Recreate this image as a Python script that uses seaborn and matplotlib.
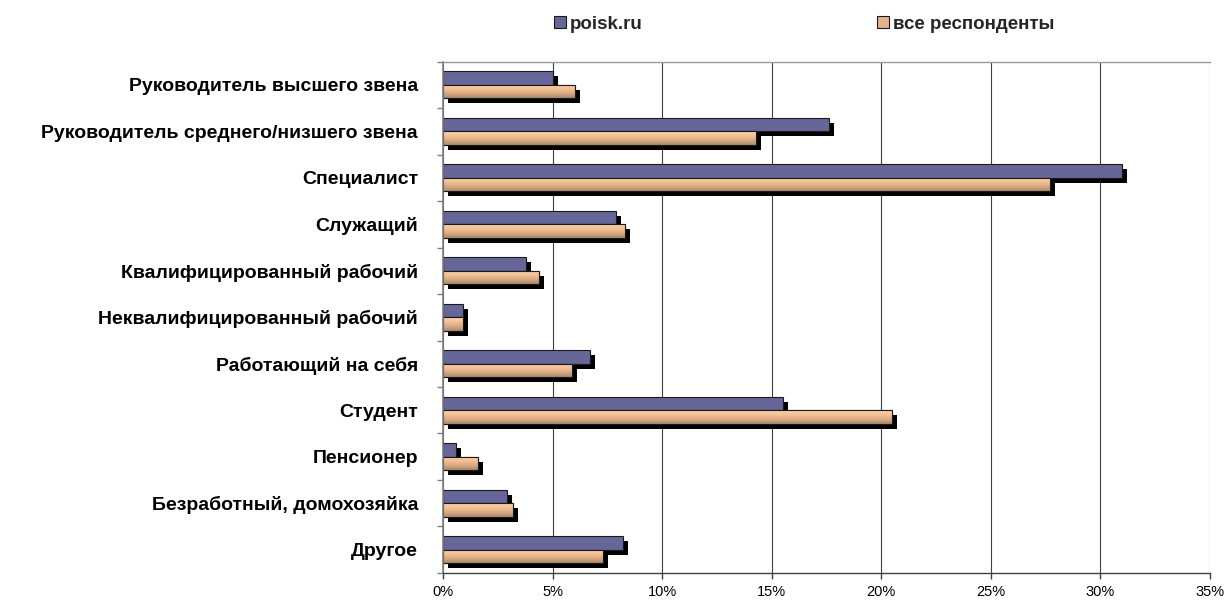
import numpy as np
import pandas as pd
import matplotlib
matplotlib.use("Agg")
import matplotlib.pyplot as plt
import matplotlib.patheffects as pe
from matplotlib.patches import Rectangle, Patch
from matplotlib.colors import LinearSegmentedColormap
from matplotlib.ticker import PercentFormatter, FixedLocator
import seaborn as sns

# --- data ---------------------------------------------------------------
categories = [
    "Руководитель высшего звена",
    "Руководитель среднего/низшего звена",
    "Специалист",
    "Служащий",
    "Квалифицированный рабочий",
    "Неквалифицированный рабочий",
    "Работающий на себя",
    "Студент",
    "Пенсионер",
    "Безработный, домохозяйка",
    "Другое",
]
poisk_values = [5.0, 17.6, 31.0, 7.9, 3.8, 0.9, 6.7, 15.5, 0.6, 2.9, 8.2]
all_values = [6.0, 14.3, 27.7, 8.3, 4.4, 0.9, 5.9, 20.5, 1.6, 3.2, 7.3]
series_names = ["poisk.ru", "все респонденты"]
x_ticks = [0, 5, 10, 15, 20, 25, 30, 35]

df = pd.DataFrame({
    "category": categories * 2,
    "value": poisk_values + all_values,
    "series": [series_names[0]] * len(categories) + [series_names[1]] * len(categories),
})

# --- style --------------------------------------------------------------
sns.set_theme(style="white")
plt.rcParams["font.family"] = ["Liberation Sans", "DejaVu Sans"]

BLUE = "#666699"
PEACH = "#E3B48C"
peach_grad = LinearSegmentedColormap.from_list(
    "peach", ["#FAD3AA", "#F2C195", "#D9A981", "#A88A70"])

fig = plt.figure(figsize=(12.3, 6.02), dpi=100)
ax = fig.add_axes([0.3602, 0.0482, 0.6235, 0.8496])

sns.barplot(data=df, y="category", x="value", hue="series", orient="h",
            palette=[BLUE, PEACH], saturation=1, width=0.58, errorbar=None,
            edgecolor="#1a1a1a", linewidth=0.8, legend=False, ax=ax)

# drop shadow under every bar
shadow = [pe.SimplePatchShadow(offset=(3.6, -3.6), shadow_rgbFace="black", alpha=1.0),
          pe.Normal()]
bars = [p for p in ax.patches if isinstance(p, Rectangle)]
n = len(categories)
for bar in bars:
    bar.set_path_effects(shadow)
    bar.set_zorder(2)

# vertical gradient fill on the second series
grad = np.linspace(0, 1, 64).reshape(-1, 1)
for bar in bars[n:]:
    x0, y0 = bar.get_x(), bar.get_y()
    w, h = bar.get_width(), bar.get_height()
    im = ax.imshow(grad, cmap=peach_grad, aspect="auto", origin="upper",
                   extent=(x0, x0 + w, y0 + h, y0), zorder=2.05,
                   interpolation="bilinear")
    im.set_clip_path(bar)
    ax.add_patch(Rectangle((x0, y0), w, h, fill=False, edgecolor="#1a1a1a",
                           linewidth=0.8, zorder=2.1))

# --- axes ---------------------------------------------------------------
ax.set_xlim(x_ticks[0], x_ticks[-1])
ax.set_ylim(n - 0.5, -0.5)
ax.set_xticks(x_ticks)
ax.xaxis.set_major_formatter(PercentFormatter(100, decimals=0))
ax.set_xlabel("")
ax.set_ylabel("")

ax.set_axisbelow(True)
ax.xaxis.grid(True, color="#404040", linewidth=0.8)
ax.yaxis.grid(False)

ax.spines["right"].set_visible(False)
ax.spines["top"].set_color("#9a9a9a")
ax.spines["top"].set_linewidth(1.0)
ax.spines["left"].set_color("#808080")
ax.spines["left"].set_linewidth(1.2)
ax.spines["bottom"].set_color("#404040")
ax.spines["bottom"].set_linewidth(1.0)

ax.yaxis.set_minor_locator(FixedLocator(np.arange(-0.5, n, 1.0)))
ax.tick_params(axis="y", which="major", length=0, pad=18)
ax.tick_params(axis="y", which="minor", left=True, length=4, width=1.0, color="#808080")
ax.tick_params(axis="x", which="major", bottom=True, length=4, width=1.0,
               color="#404040", pad=5, labelsize=10.5, labelcolor="black")
for lab in ax.get_yticklabels():
    lab.set_fontweight("bold")
    lab.set_fontsize(14)
    lab.set_color("black")

# --- legend -------------------------------------------------------------
handles = [Patch(facecolor=BLUE, edgecolor="#1a1a1a", linewidth=0.8),
           Patch(facecolor=PEACH, edgecolor="#1a1a1a", linewidth=0.8)]
fig.legend(handles, series_names, loc="center", ncol=2, frameon=False,
           bbox_to_anchor=(0.654, 0.96), handlelength=0.62, handleheight=0.62,
           handletextpad=0.22, columnspacing=12.5,
           prop={"weight": "bold", "size": 13.5})

fig.savefig("out.png", dpi=100, facecolor="white")
